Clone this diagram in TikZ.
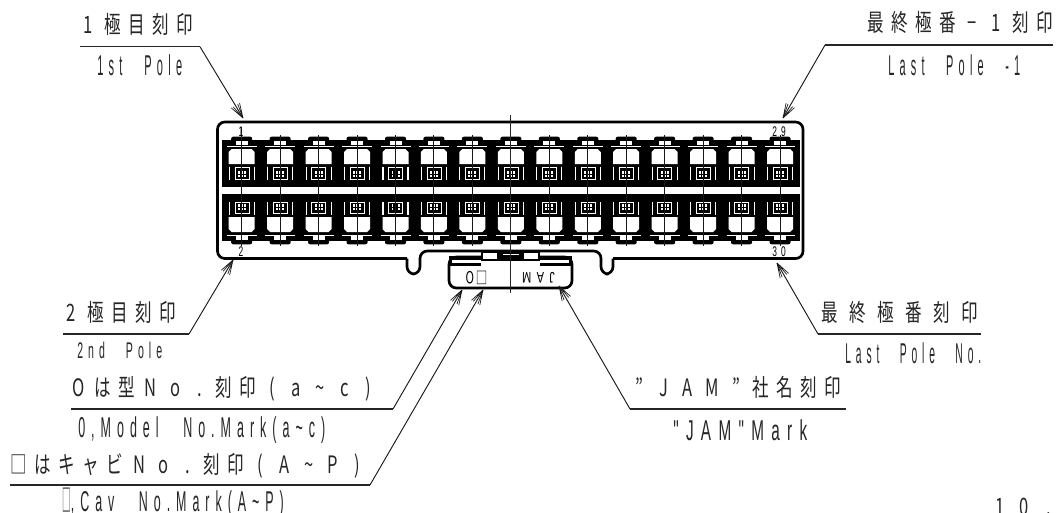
\documentclass[tikz,border=0pt]{standalone}
\usepackage{fontspec}
\usepackage{graphicx}
\usetikzlibrary{arrows.meta}
\newfontfamily\jpf{Noto Sans CJK JP}
\newfontfamily\latf[LetterSpace=48,WordSpace=2.6]{Liberation Sans}
\newfontfamily\digf{Liberation Sans}
\makeatletter
\newcommand\jt[2]{\@tfor\jc:=#2\do{\makebox[#1][c]{\scalebox{.8}[1.16]{\jc}}}}
\makeatother
% text set to a given width in px of the picture
\newcommand\lat[2]{\resizebox{#1\dimexpr.75pt\relax}{\height}{\latf #2}}
\newcommand\tld{\char"007E\relax}
\pgfdeclarearrow{
  name=Fan,
  setup code={\pgfarrowssettipend{0pt}\pgfarrowssetlineend{0pt}\pgfarrowssetbackend{-11pt}
    \pgfarrowshullpoint{0pt}{0pt}\pgfarrowsupperhullpoint{-11pt}{4pt}},
  drawing code={\pgfsetdash{}{0pt}\pgfsetlinewidth{.5pt}
    \foreach \w in {-3.6,-2,2,3.6}{\pgfpathmoveto{\pgfpoint{0pt}{0pt}}\pgfpathlineto{\pgfpoint{-11pt}{\w pt}}}
    \pgfusepathqstroke},
  defaults={length=11pt}
}
\tikzset{
  jp/.style={anchor=base west,inner sep=0pt,font=\jpf\fontsize{15.5}{16}\selectfont,text=black!85},
  la/.style={anchor=base west,inner sep=0pt,font=\fontsize{21.5}{22}\selectfont,text=black!85},
  lb/.style={la,font=\fontsize{17}{18}\selectfont},
  dg/.style={inner sep=0pt,font=\digf\fontsize{10.5}{11}\selectfont},
  leader/.style={draw=black!90,line width=.7pt,-Fan},
  shelf/.style={draw=black!85,line width=.85pt},
  outline/.style={draw=black,line width=2pt,rounded corners=5.5pt},
  thinc/.style={draw=black!85,line width=.6pt},
}
\newcommand\cavity{%
  \fill[black,rounded corners=1.5pt] (-10.5,136.7) rectangle (10.5,143);
  \fill[white] (-6,141.3) rectangle (6,145);
  \draw[white,line width=.3pt] (-15,146.3) -- (15,146.3);
  \fill[white] (-10,149) -- (10,149) -- (13,152) -- (13,164) -- (-13,164) -- (-13,152) -- cycle;
  \draw[white,line width=.8pt] (-12.5,166.5) -- (-12.5,179.5) (12.5,166.5) -- (12.5,179.5);
  \draw[white,line width=.25pt] (-7,167.5) rectangle (7,179);
  \fill[white] (-4,171) rectangle (4,177);
  \draw[black,line width=.6pt] (-4,174) -- (4,174);
  \draw[black,line width=.8pt] (-1.5,171) -- (-1.5,177) (1.5,171) -- (1.5,177);
}
\begin{document}
\begin{tikzpicture}[x=.75pt,y=-.75pt]
\useasboundingbox (0,0) rectangle (1056,512);
\fill[white] (0,0) rectangle (1056,512);
% bands
\fill[black] (222,140) rectangle (800,187);
\fill[black] (222,194) rectangle (800,241);
\foreach \i in {0,...,14}{
  \pgfmathsetmacro\cx{241.7+38.45*\i}
  \begin{scope}[shift={(\cx,0)}]\cavity\end{scope}
  \begin{scope}[shift={(\cx,381)},yscale=-1]\cavity\end{scope}
  \draw[black!90,line width=.7pt] (\cx,135) -- (\cx,246);
}
\draw[black!85,line width=.6pt] (241.7,127) -- (241.7,140);
% body
\draw[outline] (407,258.5) -- (217.5,258.5) -- (217.5,122) -- (803,122) -- (803,258.5) -- (613,258.5);
\draw[outline] (407,258.5) -- (407,274) -- (420,274) -- (420,251) -- (601,251) -- (601,274) -- (613,274) -- (613,258.5);
% tab
\fill[white] (449,256) rectangle (572,288);
\draw[outline] (449,257) -- (449,288) -- (572,288) -- (572,257) -- cycle;
\fill[black] (449,256) rectangle (481,266);
\fill[black] (540,256) rectangle (572,266);
\fill[white] (452,260) rectangle (481,263);
\fill[white] (540,260) rectangle (569,263);
\fill[black] (481,251) rectangle (540,261);
\fill[white] (483,253) rectangle (497,259);
\fill[white] (524,253) rectangle (538,259);
\fill[white] (503,253.5) rectangle (519,255);
\draw[thinc] (510.7,115) -- (510.7,293);
% tab marks
\node[inner sep=0pt,rotate=180,font=\jpf\fontsize{11.5}{12}\selectfont] (tabO) at (476.5,278) {\scalebox{.75}[1.1]{□\,O}};
\node[inner sep=0pt,rotate=180,font=\fontsize{11.5}{12}\selectfont] (tabJ) at (538.5,278) {\scalebox{.72}[1]{\latf JAM}};
% pole numbers
\node[dg] (n1) at (241,132) {\scalebox{.6}[1]{1}};
\node[dg] (n2) at (241,252) {\scalebox{.6}[1]{2}};
\node[dg] (n29) at (779,132) {\scalebox{.6}[1]{2\hspace{5pt}9}};
\node[dg] (n30) at (779,252) {\scalebox{.6}[1]{3\hspace{5pt}0}};
% leaders
\coordinate (a1) at (200,46.7); \coordinate (a1s) at (80,46.7); \coordinate (t1) at (243,118);
\coordinate (a2) at (825,45); \coordinate (a2s) at (1053,45); \coordinate (t2) at (783,118);
\coordinate (a3) at (189,334); \coordinate (a3s) at (63,334); \coordinate (t3) at (233,260);
\coordinate (a4) at (393,409); \coordinate (a4s) at (71,409); \coordinate (t4) at (462,290);
\coordinate (a5) at (370,485); \coordinate (a5s) at (10,485); \coordinate (t5) at (483,290);
\coordinate (a6) at (630,409); \coordinate (a6s) at (846,409); \coordinate (t6) at (559,286);
\coordinate (a7) at (818,334); \coordinate (a7s) at (981,334); \coordinate (t7) at (777,263);
\foreach \k in {1,...,7}{
  \draw[shelf] (a\k s) -- (a\k);
  \draw[leader] (a\k) -- (t\k);
}
% texts
\node[jp] (j1) at (76,33) {\jt{24.2\dimexpr.75pt\relax}{1極目刻印}};
\node[la] (l1) at (97,75) {\lat{85}{1st Pole}};
\node[jp] (j2) at (863,31) {\jt{24.2\dimexpr.75pt\relax}{最終極番−1刻印}};
\node[la] (l2) at (888,75) {\lat{132}{Last Pole -1}};
\node[jp] (j3) at (59,321) {\jt{24.2\dimexpr.75pt\relax}{2極目刻印}};
\node[lb] (l3) at (77,358) {\lat{85}{2nd Pole}};
\node[jp] (j4) at (66,396) {\jt{24.2\dimexpr.75pt\relax}{Oは型No.刻印(a\tld c)}};
\node[la] (l4) at (78,437) {\lat{247}{0,Model No.Mark(a\tld c)}};
\node[jp] (j5) at (6,473) {\jt{24.2\dimexpr.75pt\relax}{□はキャビNo.刻印(A\tld P)}};
\node[la] (l5) at (62,511) {{\jpf\scalebox{.3}[1.05]{□}}\lat{213}{,Cav No.Mark(A\tld P)}};
\node[jp] (j6) at (627,396) {\jt{24.2\dimexpr.75pt\relax}{”JAM”社名刻印}};
\node[la] (l6) at (673,440) {\lat{134}{"JAM"Mark}};
\node[jp] (j7) at (815,321) {\jt{28\dimexpr.75pt\relax}{最終極番刻印}};
\node[la] (l7) at (845,363) {\lat{136}{Last Pole No.}};
\node[jp] (j8) at (988,515) {\jt{24.2\dimexpr.75pt\relax}{10.}};
\end{tikzpicture}
\end{document}
